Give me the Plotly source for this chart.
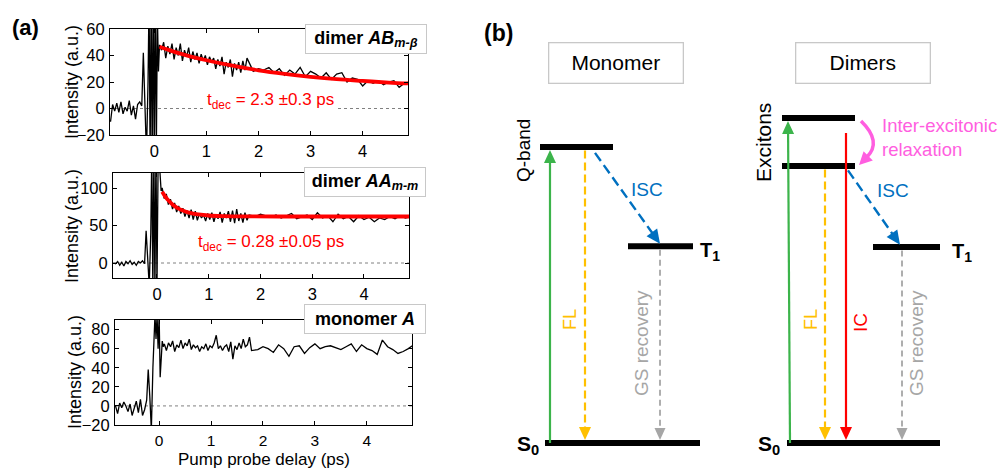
import plotly.graph_objects as go

# ---------------- DATA : panel (a) ----------------
delay_ps = [
    -0.84, -0.80, -0.76, -0.72, -0.68, -0.64, -0.60, -0.56, -0.52, -0.48, -0.44, -0.40, -0.36, -0.32, -0.28, -0.24,
    -0.21, -0.18, -0.15, -0.12, -0.10, -0.08, -0.06, -0.04, -0.02, 0.00, 0.02, 0.04, 0.06, 0.08,
    0.10, 0.14, 0.18, 0.22, 0.26, 0.30, 0.34, 0.38, 0.42, 0.46, 0.50, 0.54, 0.58, 0.62, 0.66, 0.70,
    0.74, 0.78, 0.82, 0.86, 0.90, 0.94, 0.98, 1.02, 1.06, 1.10, 1.14, 1.18, 1.22, 1.26, 1.30, 1.34,
    1.38, 1.42, 1.46, 1.50, 1.54, 1.58, 1.62, 1.66, 1.70, 1.74, 1.78,
    1.9, 2.0, 2.1, 2.2, 2.3, 2.4, 2.5, 2.6, 2.7, 2.8, 2.9, 3.0, 3.1, 3.2, 3.3, 3.4,
    3.5, 3.6, 3.7, 3.8, 3.9, 4.0, 4.1, 4.2, 4.3, 4.4, 4.5, 4.6, 4.7, 4.8, 4.9,
]

dimer_ab = [
    -10, 3, -2, 4, -3, 5, -4, 1, -2, 6, -5, 2, -8, 3, 5, 2,
    42, 0, -35, 20, 85, -40, 90, -45, 95, -40, 90, -30, 70, 28,
    48, 44, 50, 38, 47, 41, 49, 37, 46, 40, 49, 36, 44, 39, 46, 35,
    43, 37, 42, 34, 41, 36, 40, 33, 39, 35, 38, 30, 37, 32, 39, 26,
    35, 31, 37, 24, 34, 29, 35, 27, 36, 29, 38,
    28, 30, 29, 31, 27, 30, 25, 29, 26, 31, 24, 28, 26, 23, 27, 22,
    26, 27, 20, 23, 22, 17, 21, 19, 21, 18, 20, 21, 16, 19, 20,
]

dimer_aa = [
    0, -1, 2, -3, 1, -4, 2, -1, 3, -2, 1, -3, 2, 0, 3, -1,
    43, 10, -30, 40, 150, -40, 150, -40, 150, -30, 120, 140, 108, 96,
    100, 86, 92, 78, 85, 72, 80, 68, 76, 66, 73, 62, 70, 60, 71, 58,
    69, 57, 66, 60, 64, 56, 66, 58, 67, 55, 65, 59, 68, 54, 66, 60,
    69, 55, 70, 53, 72, 56, 66, 54, 67, 57, 64,
    62, 65, 63, 61, 64, 60, 63, 66, 59, 62, 64, 58, 67, 60, 63, 55,
    65, 59, 62, 55, 63, 58, 61, 55, 60, 58, 62, 59, 63, 60, 62,
]

monomer_a = [
    0, -8, 3, -2, 4, 0, -6, 2, -10, -3, 5, -7, 7, -10, -4, 6,
    38, 10, -25, 40, 88, 95, 70, 95, 60, 95, 30, 55, 68, 62,
    65, 58, 66, 62, 68, 57, 64, 61, 69, 60, 66, 63, 70, 59, 64, 61,
    63, 57, 62, 60, 65, 58, 63, 61, 66, 74, 60, 63, 58, 62, 64, 57,
    67, 49, 63, 59, 66, 60, 70, 62, 64, 72, 58,
    59, 62, 60, 56, 64, 60, 52, 62, 63, 55, 61, 65, 60, 62, 63, 61,
    59, 62, 65, 57, 64, 60, 58, 54, 69, 62, 59, 55, 57, 60, 64,
]

fit_ab_t = [0.1, 0.3, 0.6, 1.0, 1.5, 2.0, 2.5, 3.0, 3.5, 4.0, 4.5, 4.87]
fit_ab = [46.6, 43.9, 40.3, 36.4, 32.3, 28.8, 26.1, 23.9, 22.1, 20.8, 19.6, 18.9]
fit_aa_t = [0.1, 0.15, 0.2, 0.3, 0.4, 0.5, 0.6, 0.7, 0.8, 1.0, 1.3, 1.7, 2.5, 3.5, 4.87]
fit_aa = [94.9, 89.5, 85.0, 78.1, 73.3, 69.9, 67.5, 65.9, 64.7, 63.3, 62.5, 62.1, 62.0, 62.0, 62.0]

x_ticks = [0, 1, 2, 3, 4]
ab_yticks = [-20, 0, 20, 40, 60]
aa_yticks = [0, 50, 100]
mono_yticks = [-20, 0, 20, 40, 60, 80]

ab_label = "<b>dimer <i>AB</i><sub><i>m-β</i></sub></b>"
aa_label = "<b>dimer <i>AA</i><sub><i>m-m</i></sub></b>"
mono_label = "<b>monomer <i>A</i></b>"
ab_tdec = "t<sub>dec</sub> = 2.3 ±0.3 ps"
aa_tdec = "t<sub>dec</sub> = 0.28 ±0.05 ps"

# ---------------- DATA : panel (b) (energies, arbitrary units, S0 = 0) ----------------
mono_E = {"S0": 0.0, "Q": 1.0, "T1": 0.665}
dimer_E = {"S0": 0.0, "Xu": 1.098, "Xl": 0.936, "T1": 0.662}

# ---------------- LAYOUT ----------------
REF_W, REF_H = 1005, 469
OFF = 8  # the page body adds an 8px margin; draw the figure that much smaller/shifted
W, H = REF_W - OFF, REF_H - OFF
FONT = "Liberation Sans, Arial, sans-serif"
E0_PX, PX_PER_E = 443.0, 296.0


def px2e(py):
    return (E0_PX - py) / PX_PER_E


def e2px(e):
    return E0_PX - PX_PER_E * e


def pxx(x):
    return (x - OFF) / W


def pxy(y):
    return 1 - (y - OFF) / H


fig = go.Figure()

panels = [
    dict(ax="", sig=dimer_ab, fit_t=fit_ab_t, fit=fit_ab, xd=(110, 408), yd=(29, 135), yr=[-20, 60],
         yt=ab_yticks, xr=[-0.85, 4.87], label=ab_label, lab=(366, 39), tdec=ab_tdec, tpos=(270, 101),
         ttl=(72, 82), xfs=16.5),
    dict(ax="2", sig=dimer_aa, fit_t=fit_aa_t, fit=fit_aa, xd=(113, 409), yd=(173, 278), yr=[-20, 120],
         yt=aa_yticks, xr=[-0.85, 4.87], label=aa_label, lab=(365, 182.5), tdec=aa_tdec, tpos=(271, 243),
         ttl=(72, 226), xfs=16.5),
    dict(ax="3", sig=monomer_a, fit_t=None, fit=None, xd=(115, 412), yd=(320, 425), yr=[-20, 90],
         yt=mono_yticks, xr=[-0.85, 4.87], label=mono_label, lab=(365, 319), tdec=None, tpos=None,
         ttl=(75, 372), xfs=15.5),
]

annotations = []
shapes = []


def pann(text, x, y, size, color="black", angle=0, **kw):
    annotations.append(dict(text=text, x=pxx(x), y=pxy(y), xref="paper", yref="paper", showarrow=False,
                            xanchor="center", yanchor="middle", textangle=angle,
                            font=dict(family=FONT, size=size, color=color), **kw))


for p in panels:
    xa, ya = "x" + p["ax"], "y" + p["ax"]
    fig.add_trace(go.Scatter(x=delay_ps, y=p["sig"], mode="lines", line=dict(color="black", width=1.3),
                             xaxis=xa, yaxis=ya, hoverinfo="skip"))
    if p["fit"] is not None:
        fig.add_trace(go.Scatter(x=p["fit_t"], y=p["fit"], mode="lines",
                                 line=dict(color="#ff0000", width=3.8, shape="spline"),
                                 xaxis=xa, yaxis=ya, hoverinfo="skip"))
    shapes.append(dict(type="line", xref=xa, yref=ya, x0=p["xr"][0], x1=p["xr"][1], y0=0, y1=0,
                       line=dict(color="#808080", width=1, dash="dot"), layer="below"))
    axis_common = dict(showline=True, linecolor="black", linewidth=1, mirror="ticks", ticks="inside",
                       ticklen=4, tickcolor="black", showgrid=False, zeroline=False, fixedrange=True)
    fig.update_layout(**{
        "xaxis" + p["ax"]: dict(domain=[pxx(p["xd"][0]), pxx(p["xd"][1])], range=p["xr"], tickvals=x_ticks,
                                anchor=ya, ticklabelstandoff=1,
                                tickfont=dict(family=FONT, size=p["xfs"], color="black"), **axis_common),
        "yaxis" + p["ax"]: dict(domain=[pxy(p["yd"][1]), pxy(p["yd"][0])], range=p["yr"], tickvals=p["yt"],
                                anchor=xa, ticklabelstandoff=1,
                                tickfont=dict(family=FONT, size=16.5, color="black"), **axis_common),
    })
    pann(p["label"], p["lab"][0], p["lab"][1], 18, bgcolor="white", bordercolor="#c8c8c8", borderwidth=1,
         borderpad=2, width=116, height=24)
    if p["tdec"]:
        pann(p["tdec"], p["tpos"][0], p["tpos"][1], 17, color="#ff0000", bgcolor="white", borderpad=2)
    pann("Intensity (a.u.)", p["ttl"][0], p["ttl"][1], 18, angle=-90)

pann("Pump probe delay (ps)", 264, 459, 17)
pann("<b>(a)</b>", 25, 27, 22)

# ---------------- panel (b) diagram ----------------
fig.update_layout(
    xaxis4=dict(domain=[0, 1], range=[OFF, REF_W], visible=False, anchor="y4", fixedrange=True),
    yaxis4=dict(domain=[0, 1], range=[px2e(REF_H), px2e(OFF)], visible=False, anchor="x4", fixedrange=True),
)

GREEN, YELLOW, BLUE, GRAY, RED, PINK = "#3cb44b", "#ffc000", "#0070c0", "#a6a6a6", "#ff0000", "#ff5ee0"


def level(x0, x1, e):
    shapes.append(dict(type="line", xref="x4", yref="y4", x0=x0, x1=x1, y0=e, y1=e,
                       line=dict(color="black", width=6)))


def head(tx, ty, ux, uy, color, hl=13, hw=6):
    bx, by = tx - hl * ux, ty - hl * uy
    nx, ny = -uy, ux
    pts = [(tx, ty), (bx + hw * nx, by + hw * ny), (bx - hw * nx, by - hw * ny)]
    path = "M " + " L ".join(f"{x:.2f},{px2e(y):.5f}" for x, y in pts) + " Z"
    shapes.append(dict(type="path", path=path, xref="x4", yref="y4", fillcolor=color,
                       line=dict(color=color, width=0)))


def arrow(x0, e0, x1, e1, color, width, dash="solid", hl=13, hw=6):
    X0, Y0, X1, Y1 = x0, e2px(e0), x1, e2px(e1)
    dx, dy = X1 - X0, Y1 - Y0
    L = (dx * dx + dy * dy) ** 0.5
    ux, uy = dx / L, dy / L
    ex, ey = X1 - (hl - 2) * ux, Y1 - (hl - 2) * uy
    shapes.append(dict(type="line", xref="x4", yref="y4", x0=X0, y0=px2e(Y0), x1=ex, y1=px2e(ey),
                       line=dict(color=color, width=width, dash=dash)))
    head(X1, Y1, ux, uy, color, hl, hw)


def txt(s, x, py, size, color="black", angle=0, bold=False, xanchor="center", **kw):
    annotations.append(dict(text=f"<b>{s}</b>" if bold else s, x=x, y=px2e(py), xref="x4", yref="y4",
                            showarrow=False, textangle=angle, xanchor=xanchor, yanchor="middle",
                            font=dict(family=FONT, size=size, color=color), **kw))


# monomer
level(545, 700, mono_E["S0"])
level(540, 613, mono_E["Q"])
level(628, 693, mono_E["T1"])
arrow(550, mono_E["S0"], 550, mono_E["Q"] - 0.01, GREEN, 2.2)
arrow(585, mono_E["Q"] - 0.012, 585, mono_E["S0"] + 0.01, YELLOW, 2.2, dash="8px,4px")
arrow(595, mono_E["Q"] - 0.02, 660, mono_E["T1"] + 0.008, BLUE, 2.4, dash="10px,5px", hl=14, hw=6.5)
arrow(660, mono_E["T1"] - 0.012, 660, mono_E["S0"] + 0.01, GRAY, 1.8, dash="6px,4px", hl=12, hw=5.5)

# dimers
level(787, 940, dimer_E["S0"])
level(782, 855, dimer_E["Xu"])
level(782, 855, dimer_E["Xl"])
level(873, 940, dimer_E["T1"])
arrow(790, dimer_E["S0"], 788, dimer_E["Xu"] - 0.01, GREEN, 2.2)
arrow(825, dimer_E["Xl"] - 0.012, 825, dimer_E["S0"] + 0.01, YELLOW, 2.2, dash="8px,4px")
arrow(846, px2e(133), 846, dimer_E["S0"] + 0.01, RED, 2.2)
arrow(848, dimer_E["Xl"] - 0.015, 900, dimer_E["T1"] + 0.008, BLUE, 2.4, dash="10px,5px", hl=14, hw=6.5)
arrow(902, dimer_E["T1"] - 0.012, 902, dimer_E["S0"] + 0.01, GRAY, 1.8, dash="6px,4px", hl=12, hw=5.5)

# pink curved inter-excitonic arrow
ux, uy = -0.707, 0.707
tipx, tipy = 859, 165
ex, ey = tipx - 11 * ux, tipy - 11 * uy
cx, cy = ex - 22 * ux, ey - 22 * uy
shapes.append(dict(type="path", xref="x4", yref="y4",
                   path=f"M 861,{px2e(121):.5f} Q {cx:.2f},{px2e(cy):.5f} {ex:.2f},{px2e(ey):.5f}",
                   line=dict(color=PINK, width=3.5)))
head(tipx, tipy, ux, uy, PINK, 13, 6.5)

# texts panel (b)
txt("(b)", 498, 33, 23, bold=True)
txt("Monomer", 615.5, 62.5, 21, bgcolor="white", bordercolor="#c8c8c8", borderwidth=1.3, borderpad=3,
    width=127, height=33)
txt("Dimers", 862.5, 62.5, 21, bgcolor="white", bordercolor="#c8c8c8", borderwidth=1.3, borderpad=3,
    width=127, height=33)
txt("Q-band", 523, 151, 19, angle=-90)
txt("Excitons", 763, 143, 21, angle=-90)
txt("S<sub>0</sub>", 528, 445, 21, bold=True)
txt("S<sub>0</sub>", 769, 445, 21, bold=True)
txt("T<sub>1</sub>", 710, 251, 20, bold=True)
txt("T<sub>1</sub>", 962, 252, 20, bold=True)
txt("ISC", 647, 189, 19, color=BLUE)
txt("ISC", 893, 190, 19, color=BLUE)
txt("FL", 570, 320, 18, color=YELLOW, angle=-90)
txt("FL", 811, 320, 18, color=YELLOW, angle=-90)
txt("IC", 860, 323, 19, color=RED, angle=-90)
txt("GS recovery", 641, 343, 19, color=GRAY, angle=-90)
txt("GS recovery", 916, 343, 19, color=GRAY, angle=-90)
txt("Inter-excitonic<br>relaxation", 880, 137, 18.5, color=PINK, xanchor="left", align="left")

fig.update_layout(width=W, height=H, margin=dict(l=0, r=0, t=0, b=0, autoexpand=False),
                  paper_bgcolor="white", plot_bgcolor="rgba(0,0,0,0)", showlegend=False,
                  annotations=annotations, shapes=shapes, font=dict(family=FONT, color="black"))

fig.write_html("out.html")
